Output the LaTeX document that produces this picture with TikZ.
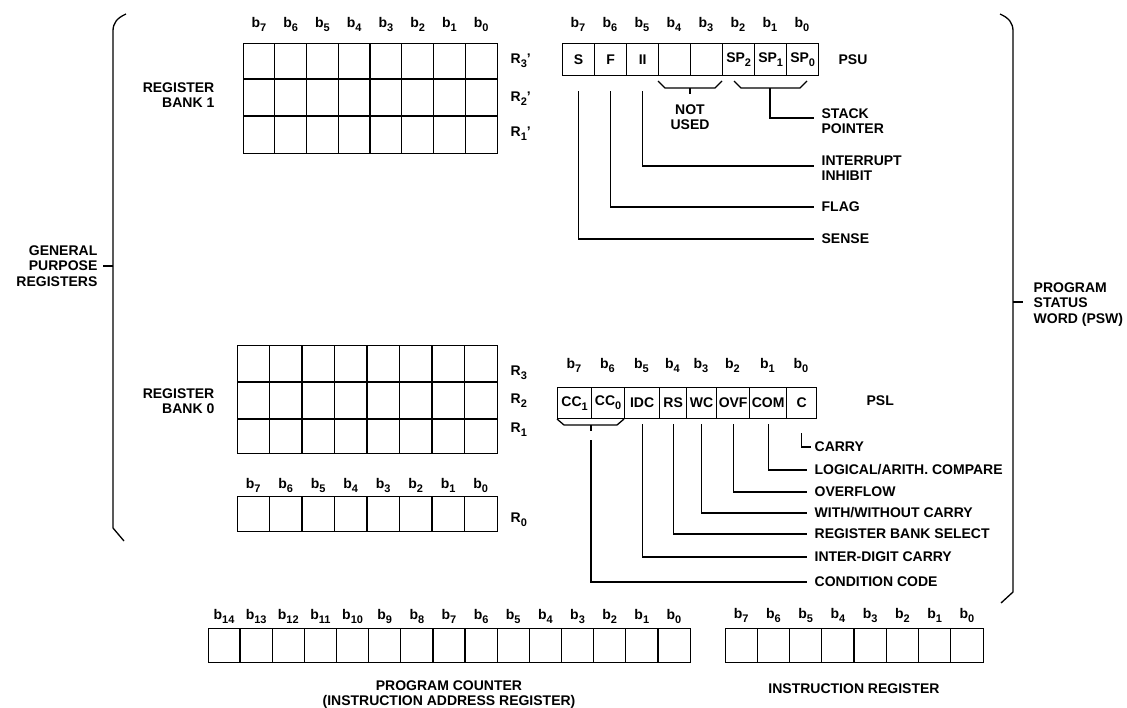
\documentclass[tikz,border=0pt]{standalone}
\usepackage{fontspec}
\setmainfont{Liberation Sans}
\newcommand\sbs[1]{\raisebox{-4pt}{\fontsize{11}{11}\selectfont #1}}
\newcommand\bt[1]{b\sbs{#1}}
\begin{document}
\begin{tikzpicture}[x=1pt,y=-1pt,line width=1.3pt,
  every node/.style={font=\fontsize{14}{15.5}\selectfont\bfseries,inner sep=0pt},
  box/.style={draw,anchor=north west},
  psucell/.style={draw,anchor=north west,minimum width=32pt,minimum height=32pt},
  pslcell/.style={draw,anchor=north west,minimum height=31pt},
  bitl/.style={anchor=base},
  lbl/.style={anchor=west},
  lbltwo/.style={anchor=north west,align=left},
  rlbl/.style={anchor=base west}]
\fill[white] (0,0) rectangle (1127,707);
\useasboundingbox (0,0) rectangle (1127,707);

% ---------- Register bank 1 ----------
\node[box,minimum width=254pt,minimum height=110pt] (bank1) at (243,43) {};
\foreach \i in {1,...,7} \draw ({243+31.75*\i},43) -- ({243+31.75*\i},153);
\draw (243,79) -- (497,79) (243,116) -- (497,116);
\foreach \n [count=\i from 0] in {7,6,...,0} \node[bitl] at ({259+31.75*\i},27) {\bt{\n}};
\node[rlbl] (r3p) at (510,63) {R\sbs{3}'};
\node[rlbl] (r2p) at (510,101) {R\sbs{2}'};
\node[rlbl] (r1p) at (510,136) {R\sbs{1}'};
\node[anchor=north east,align=right] (lrb1) at (215,82) {REGISTER\\BANK 1};

% ---------- Register bank 0 ----------
\node[box,minimum width=260pt,minimum height=108pt] (bank0) at (237,345) {};
\foreach \i in {1,...,7} \draw ({237+32.5*\i},345) -- ({237+32.5*\i},453);
\draw (237,382) -- (497,382) (237,419) -- (497,419);
\node[rlbl] (r3) at (510,375) {R\sbs{3}};
\node[rlbl] (r2) at (510,403) {R\sbs{2}};
\node[rlbl] (r1) at (510,432) {R\sbs{1}};
\node[anchor=north east,align=right] (lrb0) at (215,388) {REGISTER\\BANK 0};

% R0
\node[box,minimum width=260pt,minimum height=35pt] (r0reg) at (237,496) {};
\foreach \i in {1,...,7} \draw ({237+32.5*\i},496) -- ({237+32.5*\i},531);
\foreach \n [count=\i from 0] in {7,6,...,0} \node[bitl] at ({253.25+32.5*\i},488) {\bt{\n}};
\node[rlbl] (r0) at (510,522) {R\sbs{0}};

% ---------- General purpose brace ----------
\draw (126,14) .. controls (117,18) and (113,23) .. (113,31) -- (113,528) -- (124,541);
\draw (113,266) -- (103,266);
\node[anchor=east,align=right] (lgpr) at (98,266) {GENERAL\\PURPOSE\\REGISTERS};

% ---------- PSU ----------
\foreach \n/\t [count=\i from 0] in {7/S,6/F,5/II,4/,3/,2/SP\sbs{2},1/SP\sbs{1},0/SP\sbs{0}} {
  \node[psucell] (psu\n) at ({562+32*\i},43) {\t};
  \node[bitl] at ({578+32*\i},27) {\bt{\n}};
}
\node[lbl] (lpsu) at (838,60) {PSU};
% not used brace
\draw (658,81) -- (665,88) -- (715,88) -- (722,81);
\draw (690,88) -- (690,94);
\node[anchor=north,align=center] (lnu) at (690,104) {NOT\\USED};
% stack pointer brace
\draw (734,81) -- (741,88) -- (800,88) -- (807,81);
\coordinate (sptip) at (770,88);
\node[lbltwo] (lsp) at (821,108) {STACK\\POINTER};
\draw (sptip) |- ([xshift=-7pt,yshift=-10pt]lsp.north west);
\node[lbltwo] (lii) at (821,155) {INTERRUPT\\INHIBIT};
\draw ([yshift=-15pt]psu5.south) |- ([xshift=-7pt,yshift=-11pt]lii.north west);
\node[lbl] (lflag) at (821,207) {FLAG};
\draw ([yshift=-15pt]psu6.south) |- ([xshift=-7pt]lflag.west);
\node[lbl] (lsense) at (821,239) {SENSE};
\draw ([yshift=-15pt]psu7.south) |- ([xshift=-7pt]lsense.west);

% ---------- PSL ----------
\foreach \n/\x/\w/\t in {7/557/34/CC\sbs{1},6/591/33/CC\sbs{0},5/624/35/IDC,4/659/27/RS,3/686/30/WC,2/716/33/OVF,1/749/37/COM,0/786/30/C} {
  \node[pslcell,minimum width=\w*1pt] (psl\n) at (\x,387) {\t};
  \node[bitl] at ({\x+\w/2},368) {\bt{\n}};
}
\node[lbl] (lpsl) at (866,401) {PSL};
% condition code brace
\draw (557,419) -- (564,425) -- (617,425) -- (624,419);
\draw (591,425) -- (591,431);
\coordinate (cctip) at (591,440);
\node[lbl] (lcarry) at (814,447) {CARRY};
\node[lbl] (lcom) at (814,470) {LOGICAL/ARITH. COMPARE};
\node[lbl] (lovf) at (814,492) {OVERFLOW};
\node[lbl] (lwc) at (814,513) {WITH/WITHOUT CARRY};
\node[lbl] (lrbs) at (814,534) {REGISTER BANK SELECT};
\node[lbl] (lidc) at (814,557) {INTER-DIGIT CARRY};
\node[lbl] (lcc) at (814,582) {CONDITION CODE};
\draw ([yshift=-14pt]psl0.south) |- ([xshift=-3pt]lcarry.west);
\draw ([yshift=-5pt]psl1.south) |- ([xshift=-7pt]lcom.west);
\draw ([yshift=-5pt]psl2.south) |- ([xshift=-7pt]lovf.west);
\draw ([yshift=-5pt]psl3.south) |- ([xshift=-7pt]lwc.west);
\draw ([yshift=-5pt]psl4.south) |- ([xshift=-7pt]lrbs.west);
\draw ([yshift=-5pt]psl5.south) |- ([xshift=-7pt]lidc.west);
\draw (cctip) |- ([xshift=-7pt]lcc.west);

% ---------- PSW brace ----------
\draw (1000,14) .. controls (1009,18) and (1013,23) .. (1013,31) -- (1013,592) -- (1001,603);
\draw (1013,302) -- (1023,302);
\node[lbltwo] (lpsw) at (1033,282) {PROGRAM\\STATUS\\WORD (PSW)};

% ---------- Program counter ----------
\node[box,minimum width=482pt,minimum height=34pt] (pc) at (208,628) {};
\foreach \i in {1,...,14} \draw ({208+32.133*\i},628) -- ({208+32.133*\i},662);
\foreach \n [count=\i from 0] in {14,13,...,0} \node[bitl] at ({224.07+32.133*\i},619) {\bt{\n}};
\node[anchor=north,align=center] (lpc) at (449,680) {PROGRAM COUNTER\\(INSTRUCTION ADDRESS REGISTER)};

% ---------- Instruction register ----------
\node[box,minimum width=258pt,minimum height=34pt] (ir) at (725,628) {};
\foreach \i in {1,...,7} \draw ({725+32.25*\i},628) -- ({725+32.25*\i},662);
\foreach \n [count=\i from 0] in {7,6,...,0} \node[bitl] at ({741.1+32.25*\i},618) {\bt{\n}};
\node (lir) at (854,689) {INSTRUCTION REGISTER};
\end{tikzpicture}
\end{document}
